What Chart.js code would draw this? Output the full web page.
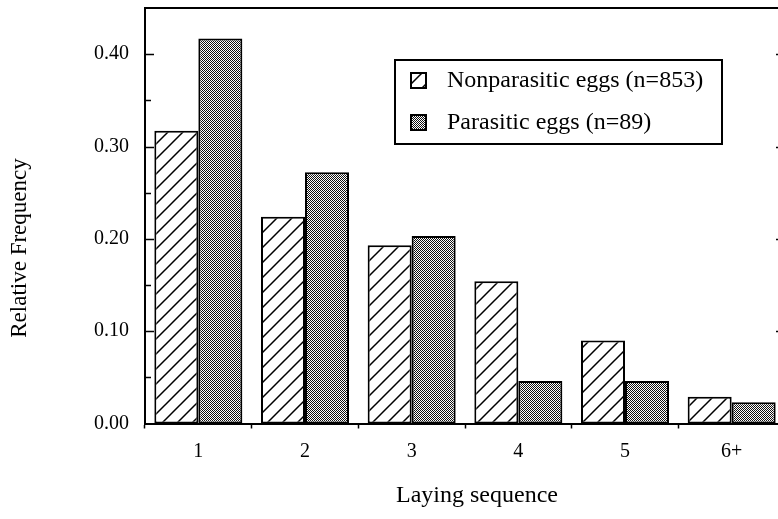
<!DOCTYPE html>
<html>
<head>
<meta charset="utf-8">
<script src="https://cdn.jsdelivr.net/npm/chart.js@4"></script>
<style>
  html, body { margin: 0; padding: 0; background: #fff; overflow: hidden; }
  canvas { display: block; }
</style>
</head>
<body>
<canvas id="myChart" width="790" height="519"></canvas>
<script>
// laying sequence categories and relative frequencies
const categories = ['1', '2', '3', '4', '5', '6+'];
const nonparasitic = [0.317, 0.224, 0.193, 0.154, 0.090, 0.029];
const parasitic = [0.417, 0.272, 0.203, 0.046, 0.046, 0.023];
const seriesLabels = ['Nonparasitic eggs (n=853)', 'Parasitic eggs (n=89)'];
const yTicks = [0, 0.1, 0.2, 0.3, 0.4];

const serif = '"Liberation Serif", "Times New Roman", "DejaVu Serif", serif';
Chart.defaults.font.family = serif;
Chart.defaults.color = '#000';

function hatchPattern() {
  const s = 15;
  let c = document.createElement('canvas');
  c.width = s; c.height = s;
  let g = c.getContext('2d');
  g.fillStyle = '#fff';
  g.fillRect(0, 0, s, s);
  g.strokeStyle = '#000';
  g.lineWidth = 1.5;
  g.beginPath();
  g.moveTo(-2, s + 2); g.lineTo(s + 2, -2);
  g.moveTo(-2, 2); g.lineTo(2, -2);
  g.moveTo(s - 2, s + 2); g.lineTo(s + 2, s - 2);
  g.stroke();
  return g.createPattern(c, 'repeat');
}

function dotPattern() {
  let c = document.createElement('canvas');
  c.width = 2; c.height = 2;
  let g = c.getContext('2d');
  g.fillStyle = '#fff';
  g.fillRect(0, 0, 2, 2);
  g.fillStyle = '#111';
  g.fillRect(0, 0, 1, 1);
  g.fillRect(1, 1, 1, 1);
  return g.createPattern(c, 'repeat');
}

const hatch = hatchPattern();
const dots = dotPattern();

// frame, inward ticks, legend box and axis titles
const decorations = {
  id: 'decorations',
  afterDraw(chart) {
    const ctx = chart.ctx;
    const area = chart.chartArea;
    const y = chart.scales.y;
    ctx.save();
    ctx.strokeStyle = '#000';

    ctx.lineWidth = 2;
    ctx.beginPath();
    ctx.moveTo(area.left - 1, area.top);
    ctx.lineTo(chart.width, area.top);
    ctx.moveTo(area.right, area.top);
    ctx.lineTo(area.right, area.bottom);
    ctx.stroke();

    ctx.lineWidth = 1.5;
    y.ticks.forEach(t => {
      const py = Math.round(y.getPixelForValue(t.value)) + 0.5;
      const major = yTicks.some(v => Math.abs(v - t.value) < 1e-6);
      if (t.value === 0 || t.value >= y.max - 1e-6) return;
      ctx.beginPath();
      ctx.moveTo(area.left, py);
      ctx.lineTo(area.left + (major ? 9 : 6), py);
      if (major) {
        ctx.moveTo(area.right, py);
        ctx.lineTo(area.right - 9, py);
      }
      ctx.stroke();
    });

    // legend
    const lx = 395, ly = 60, lw = 327, lh = 84;
    ctx.fillStyle = '#fff';
    ctx.fillRect(lx, ly, lw, lh);
    ctx.lineWidth = 2;
    ctx.strokeRect(lx, ly, lw, lh);
    const fills = [hatch, dots];
    const rows = [80, 122];
    ctx.font = '24px ' + serif;
    ctx.textBaseline = 'middle';
    ctx.textAlign = 'left';
    chart.data.datasets.forEach((ds, i) => {
      ctx.fillStyle = fills[i];
      ctx.fillRect(411, rows[i] - 7, 15, 15);
      ctx.lineWidth = 2;
      ctx.strokeRect(411, rows[i] - 7, 15, 15);
      ctx.fillStyle = '#000';
      ctx.fillText(ds.label, 447, rows[i] + 1);
    });

    // axis titles
    ctx.font = '24px ' + serif;
    ctx.textAlign = 'center';
    ctx.fillText('Laying sequence', 477, 496);
    ctx.translate(20, 248);
    ctx.rotate(-Math.PI / 2);
    ctx.font = '23px ' + serif;
    ctx.fillText('Relative Frequency', 0, 0);
    ctx.restore();
  }
};

new Chart(document.getElementById('myChart'), {
  type: 'bar',
  data: {
    labels: categories,
    datasets: [
      {
        label: seriesLabels[0],
        data: nonparasitic,
        backgroundColor: hatch,
        borderColor: '#000',
        borderWidth: 2,
        borderSkipped: false,
        categoryPercentage: 0.825,
        barPercentage: 1.0
      },
      {
        label: seriesLabels[1],
        data: parasitic,
        backgroundColor: dots,
        borderColor: '#000',
        borderWidth: 2,
        borderSkipped: false,
        categoryPercentage: 0.825,
        barPercentage: 1.0
      }
    ]
  },
  options: {
    responsive: false,
    animation: false,
    events: [],
    layout: { padding: { top: 8, right: 5, left: 0, bottom: 0 } },
    plugins: {
      legend: { display: false },
      tooltip: { enabled: false }
    },
    scales: {
      x: {
        grid: {
          offset: true,
          drawOnChartArea: false,
          tickLength: 5,
          tickWidth: 1.5,
          tickColor: '#000'
        },
        border: { display: true, color: '#000', width: 2 },
        ticks: { font: { size: 20 }, padding: 11, color: '#000' },
        afterFit: (scale) => { scale.height = 95.5; }
      },
      y: {
        min: 0,
        max: 0.45,
        grid: { display: false },
        border: { display: true, color: '#000', width: 2 },
        ticks: {
          stepSize: 0.05,
          font: { size: 20 },
          padding: 8,
          color: '#000',
          callback: (v) => yTicks.some(t => Math.abs(t - v) < 1e-6) ? v.toFixed(2) : ''
        },
        afterFit: (scale) => {
          scale.width = 145;
          scale.paddingTop = 0;
          scale.paddingBottom = 0;
        }
      }
    }
  },
  plugins: [decorations]
});
</script>
</body>
</html>
